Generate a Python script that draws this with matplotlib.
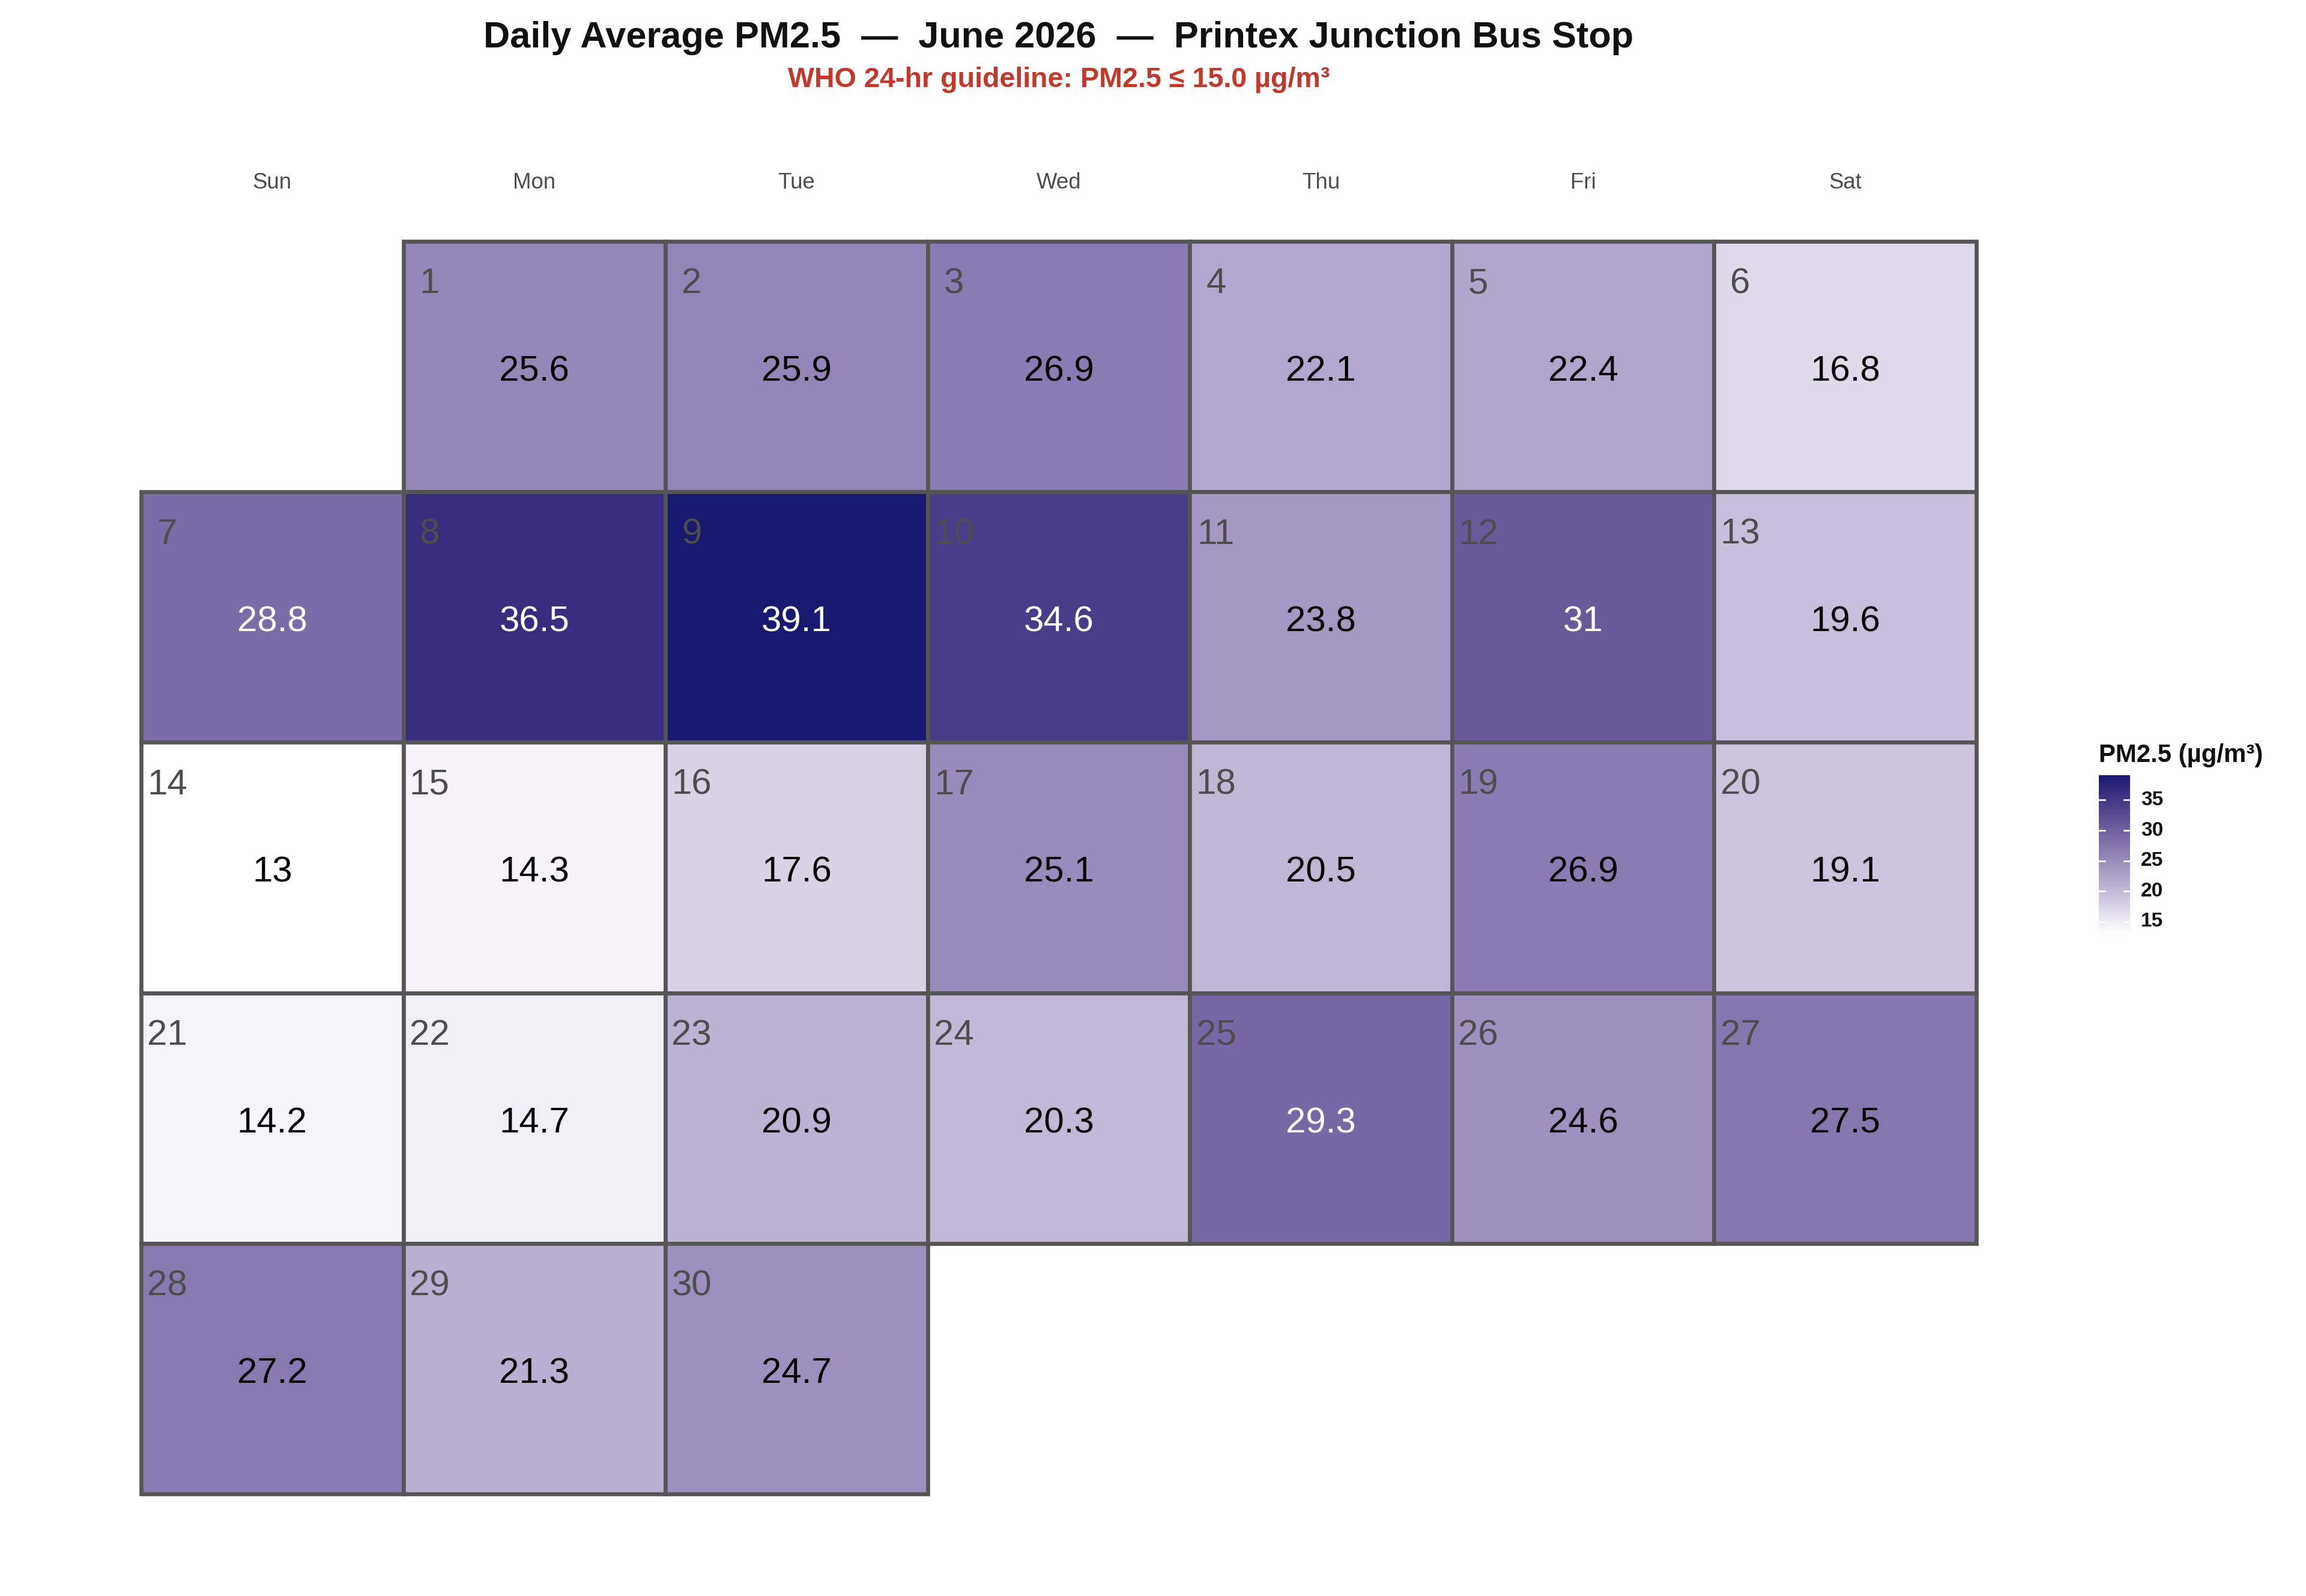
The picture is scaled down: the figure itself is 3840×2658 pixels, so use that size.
import numpy as np
import matplotlib
matplotlib.use("Agg")
import matplotlib.pyplot as plt
from matplotlib.colors import ListedColormap, Normalize
from matplotlib.patches import Rectangle

plt.rcParams['font.family'] = ['Liberation Sans', 'DejaVu Sans']

days = list(range(1, 31))
pm25 = [25.6, 25.9, 26.9, 22.1, 22.4, 16.8, 28.8, 36.5, 39.1, 34.6,
        23.8, 31.0, 19.6, 13.0, 14.3, 17.6, 25.1, 20.5, 26.9, 19.1,
        14.2, 14.7, 20.9, 20.3, 29.3, 24.6, 27.5, 27.2, 21.3, 24.7]
weekdays = ["Sun", "Mon", "Tue", "Wed", "Thu", "Fri", "Sat"]
first_col = 1  # June 1 2026 is a Monday
cbar_ticks = [15, 20, 25, 30, 35]

title = "Daily Average PM2.5  \u2014  June 2026  \u2014  Printex Junction Bus Stop"
subtitle = "WHO 24-hr guideline: PM2.5 \u2264 15.0 \u00b5g/m\u00b3"


# white -> midnightblue gradient interpolated in Lab (like ggplot)
def srgb_to_lab(rgb):
    rgb = np.asarray(rgb, float)
    lin = np.where(rgb <= 0.04045, rgb / 12.92, ((rgb + 0.055) / 1.055) ** 2.4)
    m = np.array([[0.4124, 0.3576, 0.1805],
                  [0.2126, 0.7152, 0.0722],
                  [0.0193, 0.1192, 0.9505]])
    xyz = m @ lin / np.array([0.95047, 1.0, 1.08883])
    f = np.where(xyz > 0.008856, np.cbrt(xyz), 7.787 * xyz + 16 / 116)
    return np.array([116 * f[1] - 16, 500 * (f[0] - f[1]), 200 * (f[1] - f[2])])


def lab_to_srgb(lab):
    L, a, b = lab
    fy = (L + 16) / 116
    fx = fy + a / 500
    fz = fy - b / 200
    f = np.array([fx, fy, fz])
    xyz = np.where(f ** 3 > 0.008856, f ** 3, (f - 16 / 116) / 7.787)
    xyz = xyz * np.array([0.95047, 1.0, 1.08883])
    m = np.array([[3.2406, -1.5372, -0.4986],
                  [-0.9689, 1.8758, 0.0415],
                  [0.0557, -0.2040, 1.0570]])
    lin = m @ xyz
    rgb = np.where(lin <= 0.0031308, 12.92 * lin, 1.055 * np.clip(lin, 0, None) ** (1 / 2.4) - 0.055)
    return np.clip(rgb, 0, 1)


lo = srgb_to_lab([1, 1, 1])
hi = srgb_to_lab(np.array([25, 25, 112]) / 255)
cols = [lab_to_srgb(lo + t * (hi - lo)) for t in np.linspace(0, 1, 256)]
cmap = ListedColormap(cols)
norm = Normalize(vmin=min(pm25), vmax=max(pm25))

W, H = 3840, 2658
fig = plt.figure(figsize=(W / 240, H / 240), dpi=240)

# calendar panel in pixel coords
px_l, px_r, px_t, px_b = 235, 3291, 402, 2488
ax = fig.add_axes([px_l / W, 1 - px_b / H, (px_r - px_l) / W, (px_b - px_t) / H])
ax.set_xlim(0, 7)
ax.set_ylim(5, 0)
ax.axis("off")

for d, v in zip(days, pm25):
    idx = first_col + d - 1
    col, row = idx % 7, idx // 7
    ax.add_patch(Rectangle((col, row), 1, 1, facecolor=cmap(norm(v)),
                           edgecolor="#555555", linewidth=2.0, clip_on=False))
    ax.text(col + 0.1, row + 0.17, str(d), ha="center", va="center",
            fontsize=18, color="#4d4d4d")
    ax.text(col + 0.5, row + 0.52, f"{v:g}", ha="center", va="center",
            fontsize=18, color="white" if v > 28 else "black")

for i, wd in enumerate(weekdays):
    fig.text((px_l + (i + 0.5) * (px_r - px_l) / 7) / W, 1 - 305 / H, wd,
             ha="center", va="center", fontsize=11, color="#4d4d4d")

xc = (px_l + px_r) / 2 / W
fig.text(xc, 1 - 64 / H, title, ha="center", va="center",
         fontsize=18.4, fontweight="bold", color="#111111")
fig.text(xc, 1 - 133 / H, subtitle, ha="center", va="center",
         fontsize=14, fontweight="bold", color="#c0392b")

# colour bar legend
cb_l, cb_r, cb_t, cb_b = 3495, 3547, 1291, 1555
cax = fig.add_axes([cb_l / W, 1 - cb_b / H, (cb_r - cb_l) / W, (cb_b - cb_t) / H])
grad = np.linspace(norm.vmin, norm.vmax, 300).reshape(-1, 1)
cax.imshow(grad, cmap=cmap, norm=norm, aspect="auto", origin="lower",
           extent=[0, 1, norm.vmin, norm.vmax])
cax.set_xlim(0, 1)
cax.set_ylim(norm.vmin, norm.vmax)
cax.axis("off")
for t in cbar_ticks:
    cax.plot([0, 0.2], [t, t], color="white", lw=0.8)
    cax.plot([0.8, 1], [t, t], color="white", lw=0.8)
    fig.text(3565 / W, 1 - (cb_b - (t - norm.vmin) / (norm.vmax - norm.vmin) * (cb_b - cb_t)) / H,
             str(t), ha="left", va="center", fontsize=10, fontweight="bold", color="#111111")
fig.text(cb_l / W, 1 - 1258 / H, "PM2.5 (\u00b5g/m\u00b3)", ha="left", va="center",
         fontsize=12.6, fontweight="bold", color="#111111")

fig.savefig("out.png", dpi=240, facecolor="white")
